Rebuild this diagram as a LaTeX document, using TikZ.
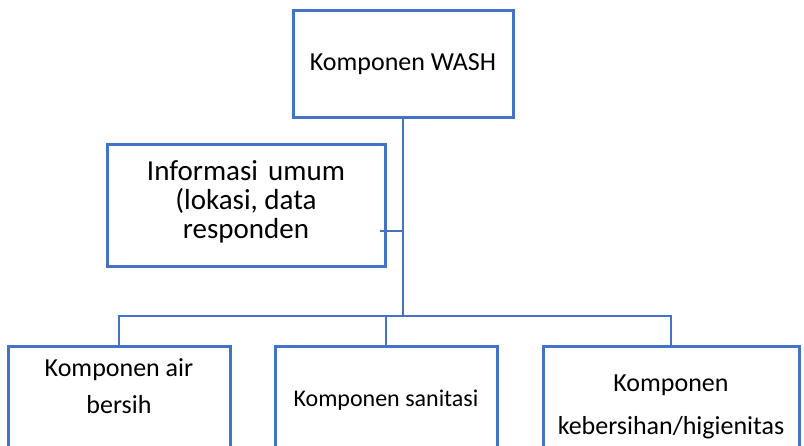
\documentclass[tikz,border=0pt]{standalone}
\usepackage{fontspec}
\setmainfont{Carlito}
\definecolor{wblue}{HTML}{4472C4}
\begin{document}
\begin{tikzpicture}[x=1pt,y=1pt,
  box/.style={draw=wblue,line width=3pt,fill=white,inner sep=0pt},
  conn/.style={draw=wblue,line width=2pt},
  txt/.style={inner sep=0pt,align=center,text=black}]
\useasboundingbox (0,0) rectangle (804,445);
\clip (0,0) rectangle (804,445);
% top box
\node[box,minimum width=220pt,minimum height=107pt,font=\fontsize{26}{31}\selectfont] (wash) at (403,380.5) {Komponen WASH};
% info box
\node[box,minimum width=278pt,minimum height=122pt] (info) at (246,239) {};
\node[txt,font=\fontsize{29}{29}\selectfont] (infot) at (246,243) {Informasi\hspace{0.35em}umum\\(lokasi, data\\responden};
% bottom boxes
\node[box,minimum width=222pt,minimum height=113pt] (air) at (119,41.5) {};
\node[box,minimum width=222pt,minimum height=113pt] (san) at (386,41.5) {};
\node[box,minimum width=256pt,minimum height=113pt] (hig) at (671,41.5) {};
\node[txt,font=\fontsize{26}{37}\selectfont] (airt) at (119,58.5) {Komponen air\\bersih};
\node[txt,font=\fontsize{24}{29}\selectfont] (sant) at (386,45) {Komponen sanitasi};
\node[txt,font=\fontsize{26}{43}\selectfont] (higt) at (671,38.5) {Komponen\\kebersihan/higienitas};
% connectors
\coordinate (bus) at (403,129);
\coordinate (ic) at (380,214);
\draw[conn] (wash.south) -- (bus);
\draw[conn] (ic) -- (ic -| bus);
\draw[conn] (air.north) -- (air.north |- bus) -- (hig.north |- bus) -- (hig.north);
\draw[conn] (san.north) -- (san.north |- bus);
\end{tikzpicture}
\end{document}
